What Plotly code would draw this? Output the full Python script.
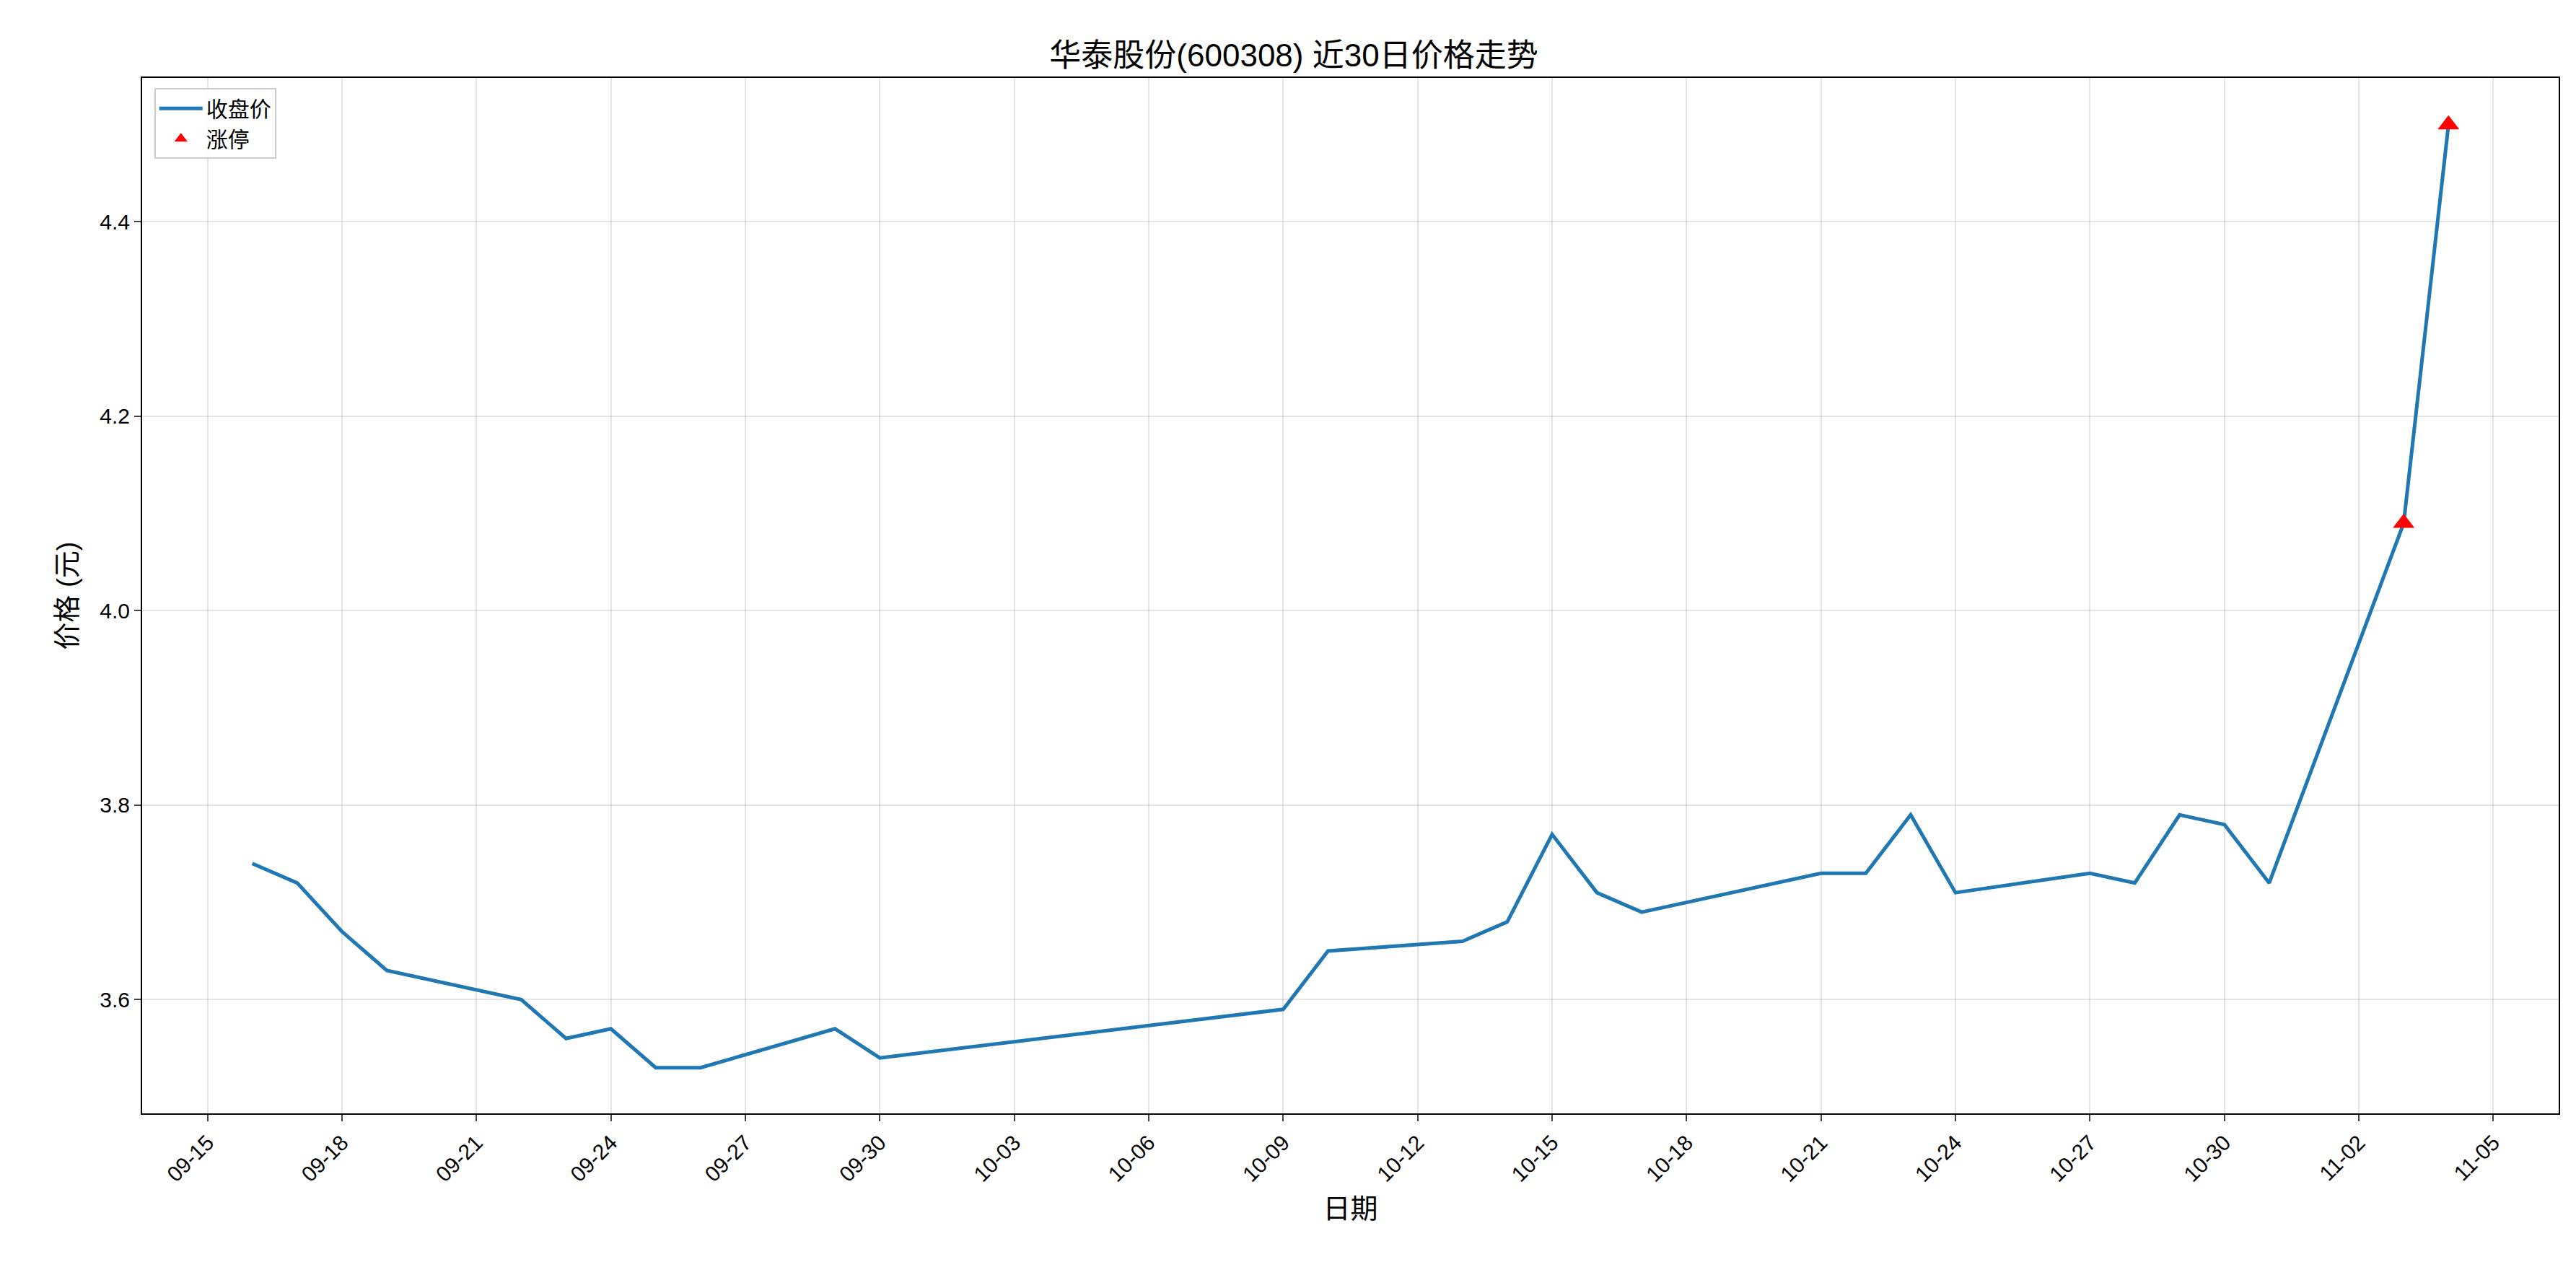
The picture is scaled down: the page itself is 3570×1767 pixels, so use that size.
import plotly.graph_objects as go
import pandas as pd

dates = ["2025-09-16","2025-09-17","2025-09-18","2025-09-19","2025-09-22","2025-09-23","2025-09-24",
         "2025-09-25","2025-09-26","2025-09-29","2025-09-30","2025-10-09","2025-10-10","2025-10-13",
         "2025-10-14","2025-10-15","2025-10-16","2025-10-17","2025-10-21","2025-10-22","2025-10-23",
         "2025-10-24","2025-10-27","2025-10-28","2025-10-29","2025-10-30","2025-10-31","2025-11-03","2025-11-04"]
close = [3.74,3.72,3.67,3.63,3.60,3.56,3.57,3.53,3.53,3.57,3.54,3.59,3.65,3.66,3.68,3.77,3.71,3.69,
         3.73,3.73,3.79,3.71,3.73,3.72,3.79,3.78,3.72,4.09,4.50]
limit_dates = ["2025-11-03","2025-11-04"]
limit_vals = [4.09,4.50]
tick_dates = pd.date_range("2025-09-15","2025-11-05",freq="3D")

font = "Liberation Sans, Arial, Noto Sans CJK SC"
fig = go.Figure()
fig.add_trace(go.Scatter(x=dates, y=close, mode="lines", name="收盘价",
                         line=dict(color="#1f77b4", width=5)))
fig.add_trace(go.Scatter(x=limit_dates, y=limit_vals, mode="markers", name="涨停",
                         marker=dict(symbol="triangle-up", color="red", size=26)))
ax = dict(showline=True, linecolor="black", linewidth=2, mirror=True, ticks="outside",
          ticklen=9, tickwidth=2, gridcolor="rgba(0,0,0,0.1)", gridwidth=2,
          tickfont=dict(size=30, color="black"), zeroline=False)
fig.update_layout(
    width=3570, height=1767, plot_bgcolor="white", paper_bgcolor="white",
    font=dict(family=font, color="black"),
    margin=dict(l=189, r=32, t=100, b=232),
    title=dict(text="华泰股份(600308) 近30日价格走势", x=0.5, xanchor="center", y=0.97,
               font=dict(size=44)),
    xaxis=dict(ax, range=["2025-09-13 13:00","2025-11-06 11:00"], tickvals=tick_dates,
               ticktext=[d.strftime("%m-%d") for d in tick_dates], tickangle=-45,
               title=dict(text="日期", font=dict(size=38), standoff=18)),
    yaxis=dict(ax, range=[3.483, 4.548], tickvals=[3.6,3.8,4.0,4.2,4.4],
               ticktext=["3.6","3.8","4.0","4.2","4.4"],
               title=dict(text="价格 (元)", font=dict(size=38), standoff=20)),
    legend=dict(x=0.005, y=0.99, xanchor="left", yanchor="top", bordercolor="#ccc",
                borderwidth=2, bgcolor="rgba(255,255,255,0.8)", font=dict(size=30),
                itemwidth=60, tracegroupgap=10),
)
fig.write_html("out.html")
